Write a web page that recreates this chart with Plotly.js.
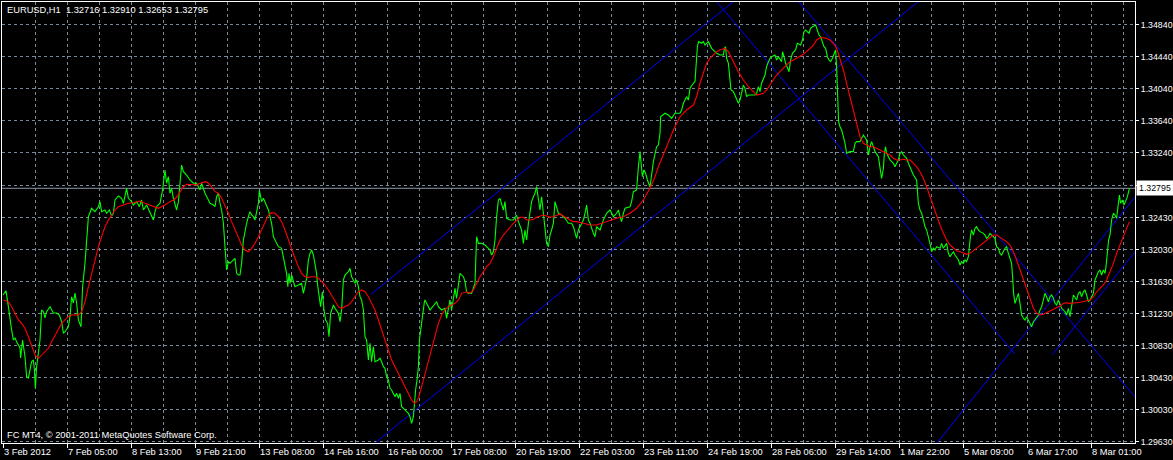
<!DOCTYPE html>
<html>
<head>
<meta charset="utf-8">
<script src="https://cdn.plot.ly/plotly-3.0.1.min.js"></script>
<style>html,body{margin:0;padding:0;background:#000;}#chart{width:1173px;height:460px;}</style>
</head>
<body>
<div id="chart"></div>
<script>
// ---- Header / labels ----
const symbolName = 'EURUSD,H1';
const ohlc = [1.32716, 1.32910, 1.32653, 1.32795];
const lastClose = 1.32795;
const copyrightText = 'FC MT4, \u00a9 2001-2011 MetaQuotes Software Corp.';

// ---- X axis (bar index) ticks ----
const tickIdx = [0, 32, 64, 96, 128, 160, 192, 224, 256, 288, 320, 352, 384, 416, 448, 480, 512, 544];
const tickText = ['3 Feb 2012', '7 Feb 05:00', '8 Feb 13:00', '9 Feb 21:00', '13 Feb 08:00', '14 Feb 16:00',
  '16 Feb 00:00', '17 Feb 08:00', '20 Feb 19:00', '22 Feb 03:00', '23 Feb 11:00', '24 Feb 19:00',
  '28 Feb 06:00', '29 Feb 14:00', '1 Mar 22:00', '5 Mar 09:00', '6 Mar 17:00', '8 Mar 01:00'];

// ---- Y axis (price) ticks ----
const priceTicks = [1.2963, 1.3003, 1.3043, 1.3083, 1.3123, 1.3163, 1.3203, 1.3243, 1.3283, 1.3324, 1.3364, 1.3404, 1.3444, 1.3484];
const priceTickText = ['1.29630', '1.30030', '1.30430', '1.30830', '1.31230', '1.31630', '1.32030', '1.32430', '', '1.33240', '1.33640', '1.34040', '1.34440', '1.34840'];

// ---- Close price line: [bar index, price] ----
const closePts = [
[0,1.31461],[1.5,1.31515],[2.7,1.31315],[3.5,1.31128],[4.3,1.31024],[5.2,1.30899],[6,1.30924],[6.8,1.30877],[8.5,1.30799],[8.8,1.30674],
[9.8,1.30899],[11,1.3069],[11.8,1.3044],[12.7,1.30424],[13.5,1.30524],[14.3,1.30627],[15.2,1.30649],[15.7,1.30524],[16.2,1.30295],[16.8,1.30565],
[17.7,1.30736],[18.5,1.30899],[19.3,1.31274],[20.2,1.31252],[21,1.31174],[21.8,1.31252],[23.5,1.31315],[25.2,1.31236],[26.8,1.31236],[28.2,1.31211],
[29.3,1.31128],[30.2,1.30986],[31,1.31002],[32.7,1.31065],[33.5,1.3119],[34.3,1.3144],[35.2,1.31361],[36,1.31486],[36.8,1.31361],[37.7,1.31149],
[39,1.31065],[39.8,1.31565],[41,1.31861],[41.8,1.32149],[42.7,1.3244],[44.3,1.32545],[46,1.32503],[47.7,1.32565],[48.5,1.32628],[49.3,1.32503],
[51,1.32524],[51.8,1.32483],[53.2,1.32524],[54.3,1.32449],[55.2,1.32483],[56,1.32649],[57.7,1.32699],[59.3,1.3267],[60.2,1.32608],[61.8,1.32795],
[62.7,1.3267],[64.3,1.32628],[65.2,1.32586],[66.8,1.32628],[68.2,1.32565],[69.3,1.32649],[70.2,1.32524],[71.8,1.32586],[73.5,1.32483],[75.2,1.32399],
[76,1.32503],[76.8,1.32565],[78.5,1.32608],[79.8,1.32774],[81,1.33024],[81.8,1.32858],[82.7,1.3294],[83.5,1.32733],[84.3,1.32795],[85.2,1.3267],
[86.8,1.32524],[87.7,1.32628],[88.5,1.32858],[89.3,1.33086],[90.2,1.33003],[91.8,1.32961],[93.5,1.32899],[95.2,1.32858],[96.8,1.32858],[98.5,1.32774],
[99.3,1.32858],[101,1.32733],[102.7,1.32649],[103.5,1.32608],[105.2,1.32586],[106,1.32565],[106.8,1.3269],[107.7,1.32733],[108.5,1.32608],[109.3,1.32524],
[110.2,1.32358],[111,1.32024],[111.8,1.31774],[112.7,1.31877],[113.5,1.31857],[115.2,1.31899],[116,1.3192],[116.8,1.31732],[117.7,1.31711],[118.5,1.31711],
[119.3,1.31857],[120.2,1.32149],[121,1.32274],[121.8,1.32358],[122.7,1.3244],[123.5,1.32503],[124.3,1.32461],[125.2,1.3244],[126,1.32399],[126.8,1.32483],
[127.7,1.32608],[128.2,1.32774],[128.8,1.32711],[129.3,1.32628],[130.2,1.3267],[131.8,1.32565],[132.7,1.32524],[133.5,1.32441],[134.3,1.32358],[135.2,1.3219],
[136,1.32149],[137.7,1.32065],[139.3,1.32045],[140.2,1.3194],[141,1.31857],[141.8,1.31732],[142.4,1.31565],[143,1.31732],[143.5,1.31607],[144.3,1.31711],
[146,1.31565],[149.3,1.31607],[150.2,1.31482],[151.8,1.3167],[152.7,1.31899],[153.5,1.31982],[154.3,1.32024],[155.2,1.31961],[156.8,1.31732],[157.3,1.31586],
[158.8,1.31315],[159.7,1.31502],[160.5,1.31274],[161.3,1.31149],[162.3,1.31107],[163,1.3094],[163.8,1.31232],[165.2,1.31336],[166,1.31295],[167.7,1.31232],
[168.5,1.31128],[169.3,1.31274],[170.2,1.31649],[171,1.31711],[172.7,1.31752],[173.5,1.31795],[174.3,1.3169],[176,1.31607],[176.8,1.31649],[177.7,1.31565],
[178.5,1.3144],[179.3,1.31399],[180.2,1.31274],[181,1.3094],[181.8,1.30899],[182.7,1.30649],[183.5,1.30857],[184.3,1.30627],[185.2,1.30815],[186,1.30627],
[187.7,1.30649],[188.5,1.3067],[189.3,1.30627],[190.2,1.30565],[191,1.30545],[191.8,1.3044],[192.7,1.30399],[193.5,1.30295],[194.3,1.30274],[196,1.3019],
[196.8,1.30232],[197.7,1.3017],[198.5,1.30232],[199.3,1.30065],[200.2,1.30045],[201,1.30024],[202.7,1.29982],[203.5,1.2994],[204.3,1.29857],[205.2,1.2994],
[205.7,1.30107],[206.3,1.30274],[207,1.30399],[207.7,1.30565],[208.2,1.30899],[208.8,1.31024],[209.3,1.31065],[210.7,1.31377],[211,1.31399],[212.7,1.31315],
[213.5,1.31274],[216.8,1.31377],[217.7,1.31315],[219.3,1.31274],[221,1.31295],[221.8,1.3117],[222.7,1.31315],[223.5,1.31399],[224.3,1.31274],[225.2,1.3144],
[226,1.31545],[226.8,1.3142],[227.7,1.31607],[228.5,1.31732],[230.2,1.3169],[231,1.31627],[231.8,1.31502],[232.7,1.31482],[234.3,1.31482],[235.2,1.31565],
[236,1.31607],[236.8,1.3219],[237.7,1.32107],[239.3,1.32107],[241,1.32086],[243.5,1.32024],[244.3,1.31961],[245.2,1.32002],[246,1.32149],[246.8,1.3244],
[247.7,1.32649],[248.5,1.3267],[250.2,1.32524],[251,1.32628],[251.8,1.3242],[253.5,1.32399],[255.2,1.32399],[256.8,1.32461],[257.7,1.32378],[259.3,1.32274],
[260.2,1.32107],[261,1.32274],[261.8,1.32149],[262.7,1.32358],[263.5,1.32524],[264.3,1.32628],[265.2,1.3269],[266,1.32733],[266.8,1.32815],[268.5,1.32524],
[269.3,1.3269],[270.2,1.32503],[271,1.32274],[271.8,1.32107],[272.7,1.32065],[273.5,1.32211],[274.3,1.32274],[275.2,1.32358],[276,1.32628],[277.7,1.32483],
[279.3,1.32461],[281,1.3242],[282.7,1.32358],[284.3,1.32358],[285.2,1.32315],[286.8,1.3217],[287.7,1.32274],[288.5,1.32315],[290.2,1.32399],[291,1.32483],
[291.8,1.32586],[292.7,1.32399],[293.5,1.32358],[295.2,1.32232],[296,1.3219],[296.8,1.32315],[298.5,1.32274],[300.2,1.32399],[301.8,1.32483],[303.5,1.32524],
[305.2,1.3244],[306.8,1.32483],[307.7,1.32524],[308.5,1.3244],[309.3,1.32378],[310.2,1.32483],[311,1.32545],[313.5,1.32565],[314.3,1.32628],[315.2,1.32753],
[316.8,1.32774],[317.7,1.33065],[318.5,1.33253],[319.7,1.3294],[320.5,1.33024],[321.3,1.32983],[322.2,1.32899],[323.5,1.32815],[324.3,1.32983],[325.2,1.33128],
[326.8,1.33315],[327.7,1.33336],[328.5,1.33483],[328.8,1.3369],[331,1.33733],[332.7,1.33711],[334.3,1.3367],[336,1.33733],[338.5,1.33733],[339.3,1.33774],
[340.2,1.33858],[341.8,1.3394],[342.7,1.33899],[343.5,1.34045],[345.2,1.34108],[346,1.34128],[346.5,1.34315],[347.2,1.34565],[347.8,1.34628],[349.3,1.34608],
[350.2,1.34628],[351,1.34586],[351.8,1.34608],[352.7,1.34628],[354.3,1.34545],[356,1.34503],[356.8,1.34483],[358.5,1.34461],[360.2,1.34461],[360.7,1.34545],
[361.3,1.34565],[361.8,1.3442],[362.7,1.34358],[363.5,1.34149],[364,1.34024],[365.2,1.34003],[366.8,1.3392],[367.7,1.33858],[368.5,1.33899],[369.3,1.33983],
[370.2,1.34086],[371,1.34045],[371.8,1.3394],[372.7,1.33961],[374.3,1.33961],[376,1.33961],[376.8,1.33983],[377.7,1.34065],[378.5,1.34003],[379.3,1.34108],
[381,1.34211],[381.8,1.34315],[382.7,1.34378],[383.5,1.3442],[384.3,1.3444],[386,1.34461],[386.8,1.34399],[387.7,1.3444],[389.3,1.34378],[389.8,1.34503],
[390.5,1.3444],[391.3,1.34358],[393,1.34253],[393.8,1.34399],[394.7,1.34483],[395.5,1.34503],[396.3,1.34524],[397.2,1.34608],[398.8,1.34586],[399.7,1.34649],
[400.5,1.34753],[401.3,1.34774],[403,1.34733],[403.8,1.34795],[404.7,1.34815],[406.3,1.34836],[407.2,1.34753],[408,1.34711],[408.8,1.3469],[409.7,1.34628],
[410.5,1.34565],[411.3,1.34545],[412.2,1.3444],[413,1.34399],[413.8,1.34378],[414.7,1.3442],[415.5,1.34483],[416.3,1.34524],[416.8,1.34315],[417.3,1.33983],
[417.8,1.33628],[418.5,1.33565],[419.3,1.33524],[420.2,1.3344],[421,1.33358],[421.8,1.33233],[423.5,1.33253],[425.2,1.33253],[426,1.33358],[426.8,1.33378],
[428.5,1.33378],[429.3,1.3342],[430.2,1.33461],[431.8,1.33399],[432.7,1.33211],[433.5,1.33315],[434.3,1.33378],[435.2,1.33315],[436,1.33253],[437.7,1.3319],
[438.5,1.33065],[439.3,1.3292],[440.2,1.33045],[440.7,1.33233],[441.3,1.33315],[441.8,1.33233],[442.7,1.3319],[443.5,1.33149],[445.2,1.33108],[446,1.33065],
[446.8,1.33108],[447.7,1.33149],[448.5,1.33233],[449.3,1.33253],[450.2,1.33211],[451.8,1.3317],[452.7,1.33108],[453.5,1.33065],[454.3,1.33003],[455.2,1.32961],
[456.8,1.32899],[457.2,1.32753],[457.7,1.32608],[458.5,1.32524],[459.3,1.32483],[460.2,1.32399],[461,1.32315],[461.8,1.32274],[462.7,1.3219],[463.5,1.32107],
[464.3,1.32002],[465.2,1.32045],[466,1.32024],[466.8,1.32065],[468.5,1.32045],[469.3,1.32107],[470.2,1.32045],[471.8,1.32107],[472.7,1.31982],[473.5,1.3194],
[475.2,1.32002],[476,1.31961],[477.7,1.31899],[478.5,1.31836],[479.3,1.31877],[480.2,1.31857],[481,1.31899],[481.8,1.31877],[482.7,1.3194],[483.2,1.32107],
[483.8,1.32211],[484.3,1.32274],[485.2,1.32211],[486,1.32295],[486.8,1.32315],[487.7,1.32274],[488.5,1.32253],[490.2,1.32232],[491,1.32211],[491.8,1.3217],
[492.7,1.3219],[493.5,1.32232],[494.3,1.32211],[496,1.3217],[496.8,1.32065],[497.7,1.32045],[498.5,1.31982],[499.3,1.31961],[501,1.32045],[501.8,1.32065],
[502.7,1.31982],[503.5,1.3192],[504.3,1.31857],[504.8,1.3169],[505.3,1.31482],[506,1.31357],[506.8,1.3142],[507.7,1.31482],[508.5,1.31357],[509.3,1.31211],
[510.2,1.3117],[511,1.31149],[511.8,1.3119],[513.5,1.31107],[514.3,1.31065],[515.2,1.31128],[516.8,1.3119],[517.7,1.31211],[518.5,1.31274],[519.3,1.31315],
[520.2,1.31399],[521,1.31482],[521.8,1.3144],[522.7,1.31377],[523.5,1.3144],[524.3,1.31461],[525.2,1.3142],[526,1.31357],[526.8,1.31336],[527.7,1.31399],
[529.3,1.31295],[531,1.31252],[531.8,1.31211],[532.7,1.31295],[533.5,1.3119],[534.3,1.31336],[535.2,1.31461],[536.8,1.31399],[537.7,1.31482],[538.5,1.31502],
[539.3,1.3144],[540.2,1.31502],[541,1.31524],[541.8,1.31461],[542.7,1.31377],[543.5,1.31399],[545.2,1.31482],[546,1.31649],[546.8,1.31711],[547.7,1.31752],
[548.5,1.31774],[549.3,1.31711],[550.2,1.31774],[551,1.31732],[551.5,1.31815],[552.2,1.32065],[552.8,1.32149],[553.5,1.32211],[554.3,1.32399],[555.2,1.32483],
[556,1.32461],[556.8,1.3242],[557.7,1.32649],[558.2,1.32711],[558.8,1.32608],[559.7,1.32649],[560.5,1.32586],[561.3,1.32628],[562.2,1.3269],[563.2,1.32795]
];

// ---- Moving average line: [bar index, value] ----
const maPts = [
[0.2,1.31399],[2.7,1.31377],[4.3,1.31315],[6,1.31232],[7.7,1.31149],[9.3,1.31107],[11,1.31045],[12.7,1.3094],[14.3,1.30815],[16,1.30711],
[17.7,1.3067],[19.3,1.30711],[21,1.30752],[22.7,1.30795],[24.3,1.30877],[26,1.30961],[27.7,1.31045],[29.3,1.31107],[31,1.31149],[32.7,1.3119],
[34.3,1.31211],[37.7,1.31211],[39.3,1.31252],[41,1.31377],[42.7,1.31565],[44.3,1.31732],[46,1.31899],[47.7,1.32065],[49.3,1.3219],[51,1.32315],
[52.7,1.32399],[54.3,1.32461],[56,1.32524],[57.7,1.32565],[60.2,1.32586],[62.7,1.32608],[65.2,1.32615],[68.5,1.32636],[71,1.32608],[73.5,1.32586],
[76,1.32565],[77.7,1.32545],[79.3,1.32565],[81,1.32586],[83.5,1.32628],[85.2,1.32649],[86.8,1.32683],[88.5,1.32753],[90.2,1.32815],[91.8,1.32845],
[94.3,1.32836],[96.8,1.32836],[98.5,1.32858],[100.2,1.32865],[101.5,1.32878],[102.7,1.32858],[104.3,1.32815],[106,1.32753],[107.7,1.32733],[109.3,1.3267],
[111,1.32586],[112.7,1.32483],[114.3,1.32378],[116,1.32274],[117.7,1.3217],[119.3,1.32086],[121,1.32024],[122.7,1.32002],[124.3,1.32045],[126,1.32107],
[127.7,1.3219],[129.3,1.32274],[131,1.32378],[132.7,1.32461],[134.3,1.3249],[136,1.32483],[137.7,1.3244],[139.3,1.32378],[141,1.32274],[142.7,1.32149],
[144.3,1.32024],[146,1.3192],[147.7,1.31815],[149.3,1.31732],[151,1.3169],[152.7,1.31682],[154.3,1.3169],[156,1.3169],[157.7,1.3167],[159.3,1.31627],
[161,1.31586],[162.7,1.31524],[164.3,1.31461],[166,1.31377],[167.7,1.31315],[169.3,1.31295],[171,1.31315],[172.7,1.31336],[174.3,1.31377],[176,1.3144],
[177.7,1.31502],[179.3,1.31524],[181,1.31502],[182.7,1.3144],[184.3,1.31357],[186,1.31274],[187.7,1.31149],[189.3,1.31024],[191,1.30877],[192.7,1.30752],
[194.3,1.30649],[196,1.30565],[197.7,1.30482],[199.3,1.30399],[201,1.30315],[202.7,1.30232],[204.3,1.30149],[205.7,1.30107],[206.8,1.30128],[208,1.3019],
[209.3,1.30315],[211,1.30482],[212.7,1.30649],[214.3,1.30815],[216,1.30961],[217.7,1.31107],[219.3,1.31211],[221,1.31274],[222.7,1.31315],[224.3,1.31336],
[226,1.31357],[227.7,1.31399],[229.3,1.31482],[231.8,1.31502],[233.5,1.31482],[235.2,1.31524],[236.8,1.31607],[238.5,1.3169],[240.2,1.31752],[241.8,1.31815],
[243.5,1.31857],[245.2,1.3194],[246.8,1.32045],[248.5,1.32149],[250.2,1.32211],[251.8,1.32253],[253.5,1.32308],[255.2,1.32358],[256.8,1.32399],[258.5,1.32433],
[260.2,1.32433],[261.8,1.32399],[263.5,1.32399],[265.2,1.32408],[266.8,1.32433],[268.5,1.32449],[270.2,1.32461],[271.8,1.32449],[273.5,1.32433],[275.2,1.3244],
[276.8,1.32461],[278.5,1.32474],[280.2,1.32449],[281.8,1.3242],[283.5,1.32399],[285.2,1.32378],[286.8,1.32378],[290.2,1.32358],[293.5,1.32336],[296.8,1.32336],
[300.2,1.32365],[303.5,1.32399],[306.8,1.3242],[310.2,1.3244],[313.5,1.32483],[316.8,1.32545],[320.2,1.32649],[323.5,1.32795],[326,1.3294],[327.7,1.33065],
[330.2,1.33211],[332.7,1.33378],[335.2,1.33524],[338.5,1.3369],[341.8,1.33774],[345.2,1.33836],[346.8,1.3394],[348.5,1.34108],[350.2,1.34253],[351.8,1.34358],
[353.5,1.3442],[355.2,1.34461],[356.8,1.34503],[358.5,1.34524],[360.2,1.34533],[361,1.34545],[362.7,1.34503],[364.3,1.3442],[366,1.34336],[367.7,1.34253],
[370.2,1.34149],[372.7,1.34065],[375.2,1.34003],[376.8,1.33961],[378.5,1.3397],[380.2,1.33983],[381.8,1.34024],[383.5,1.34086],[385.2,1.34149],[386.8,1.34211],
[388.5,1.34253],[390.2,1.34295],[391.8,1.34336],[393.5,1.34378],[395.2,1.34399],[396.8,1.3442],[398.5,1.3444],[400.2,1.3447],[401.8,1.34503],[403.5,1.34545],
[405.2,1.34586],[406.8,1.34649],[408.5,1.34678],[410.2,1.34678],[411.8,1.3467],[413.5,1.34649],[415.2,1.34608],[416.8,1.34545],[418.5,1.3442],[420.2,1.34274],
[421.8,1.34108],[423.5,1.3394],[425.2,1.33774],[426.8,1.33608],[428.5,1.3344],[430.2,1.33358],[431.8,1.33336],[433.5,1.33315],[435.2,1.33315],[436.8,1.33295],
[438.5,1.33274],[440.2,1.33253],[441.8,1.33233],[443.5,1.33211],[445.2,1.3317],[446.8,1.33149],[448.5,1.33149],[450.2,1.33158],[451.8,1.33149],[453.5,1.33149],
[455.2,1.33108],[456.8,1.33065],[458.5,1.33003],[460.2,1.3292],[461.8,1.32815],[463.5,1.3269],[465.2,1.32565],[466.8,1.3244],[468.5,1.32336],[470.2,1.32232],
[471.8,1.32149],[473.5,1.32086],[475.2,1.32045],[476.8,1.32015],[478.5,1.32002],[480.2,1.31982],[481.8,1.3197],[483.5,1.31982],[485.2,1.32015],[486.8,1.32045],
[488.5,1.32086],[490.2,1.32115],[491.8,1.32149],[493.5,1.32183],[495.2,1.32211],[496.8,1.32211],[498.5,1.32183],[500.2,1.32149],[501.8,1.32128],[503.5,1.32086],
[505.2,1.32002],[506.8,1.31899],[508.5,1.31774],[510.2,1.31649],[511.8,1.31524],[513.5,1.31399],[515.2,1.31295],[516.8,1.31232],[518.5,1.31211],[520.2,1.3122],
[521.8,1.3124],[523.5,1.31252],[525.2,1.31274],[526.8,1.31295],[528.5,1.31324],[530.2,1.31357],[531.8,1.31365],[533.5,1.31357],[535.2,1.31357],[536.8,1.31365],
[538.5,1.3137],[540.2,1.31377],[541.8,1.31386],[543.5,1.31399],[545.2,1.3144],[546.8,1.31502],[548.5,1.31545],[550.2,1.31586],[551.8,1.31649],[553.5,1.31752],
[555.2,1.31857],[556.8,1.31982],[558.5,1.32086],[560.2,1.3219],[561.8,1.32295],[563.2,1.32378]
];

// ---- Trend / channel lines: start bar, start price, end bar, end price ----
const trendX0 = [184, 184, 340, 380, 460, 524.5];
const trendP0 = [1.31470, 1.29570, 1.35626, 1.35653, 1.29394, 1.30711];
const trendX1 = [400, 480, 506, 580, 580, 580];
const trendP1 = [1.35831, 1.35582, 1.30724, 1.29775, 1.33121, 1.32434];

// ---- Build traces ----
const FONT = 'Liberation Sans, Arial, sans-serif';
const GRID = '#778899';
const traces = [];
for (let i = 0; i < trendX0.length; i++) {
  traces.push({
    type: 'scatter', mode: 'lines',
    x: [trendX0[i], trendX1[i]], y: [trendP0[i], trendP1[i]],
    line: {color: '#0000ff', width: 1}, hoverinfo: 'skip'
  });
}
traces.push({
  type: 'scatter', mode: 'lines',
  x: closePts.map(p => p[0]), y: closePts.map(p => p[1]),
  line: {color: '#00ff00', width: 1.1}, hoverinfo: 'skip'
});
traces.push({
  type: 'scatter', mode: 'lines',
  x: maPts.map(p => p[0]), y: maPts.map(p => p[1]),
  line: {color: '#ff0000', width: 1.1}, hoverinfo: 'skip'
});

// ---- Annotations ----
const annotations = [];
annotations.push({
  xref: 'paper', yref: 'paper', x: 0, y: 1, xanchor: 'left', yanchor: 'top',
  xshift: 3, yshift: -1, showarrow: false,
  text: symbolName + '\u00a0\u00a0' + ohlc.map(v => v.toFixed(5)).join(' '),
  font: {family: FONT, size: 9.3, color: '#ffffff'}
});
annotations.push({
  xref: 'paper', yref: 'paper', x: 0, y: 0, xanchor: 'left', yanchor: 'bottom',
  xshift: 3, yshift: 1, showarrow: false, text: copyrightText,
  font: {family: FONT, size: 9.3, color: '#ffffff'}
});
for (let i = 0; i < tickIdx.length; i++) {
  annotations.push({
    xref: 'x', yref: 'paper', x: tickIdx[i], y: 0, xanchor: 'left', yanchor: 'top',
    xshift: -1, yshift: -2, showarrow: false, text: tickText[i],
    font: {family: FONT, size: 9.3, color: '#ffffff'}
  });
}
annotations.push({
  xref: 'paper', yref: 'y', x: 1, y: lastClose, xanchor: 'left', yanchor: 'middle',
  xshift: 1, showarrow: false, text: lastClose.toFixed(5), bgcolor: '#ffffff', borderpad: 2,
  font: {family: FONT, size: 8.8, color: '#000000'}
});

const layout = {
  width: 1173, height: 460,
  margin: {l: 2, r: 38, t: 2, b: 17, pad: 0},
  paper_bgcolor: '#000000', plot_bgcolor: '#000000',
  showlegend: false, hovermode: false,
  font: {family: FONT, size: 9.3, color: '#ffffff'},
  xaxis: {
    range: [-0.5, 566], tickmode: 'array', tickvals: tickIdx, showticklabels: false,
    ticks: 'outside', ticklen: 4, tickcolor: '#ffffff', tickwidth: 1,
    showgrid: true, gridcolor: GRID, griddash: '3px,3px', gridwidth: 1,
    minor: {tickmode: 'linear', tick0: 0, dtick: 16, showgrid: true, gridcolor: GRID, griddash: '3px,3px', gridwidth: 1, ticks: ''},
    showline: true, linecolor: '#ffffff', linewidth: 1, mirror: true, zeroline: false, fixedrange: true
  },
  yaxis: {
    side: 'right', range: [1.29611, 1.35124], tickmode: 'array', tickvals: priceTicks, ticktext: priceTickText,
    ticks: 'outside', ticklen: 3, tickcolor: '#ffffff', tickwidth: 1,
    showgrid: true, gridcolor: GRID, griddash: '3px,3px', gridwidth: 1,
    showline: true, linecolor: '#ffffff', linewidth: 1, mirror: true, zeroline: false, fixedrange: true,
    tickfont: {family: FONT, size: 8.8, color: '#ffffff'}
  },
  shapes: [{
    type: 'line', xref: 'paper', x0: 0, x1: 1, yref: 'y', y0: lastClose, y1: lastClose,
    line: {color: '#8a96a8', width: 1}, layer: 'below'
  }],
  annotations: annotations
};

Plotly.newPlot('chart', traces, layout, {staticPlot: true, displayModeBar: false});
</script>
</body>
</html>
